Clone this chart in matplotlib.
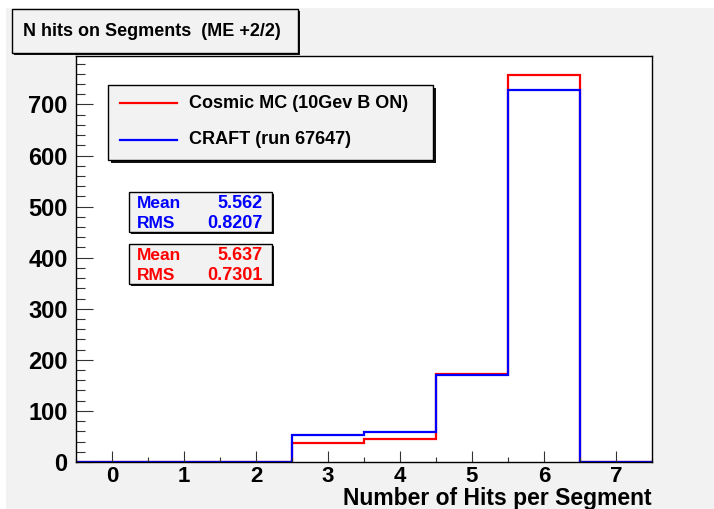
import matplotlib
matplotlib.use("Agg")
import matplotlib.pyplot as plt
from matplotlib.patches import Rectangle
from matplotlib.ticker import MultipleLocator
import numpy as np

plt.rcParams['font.family'] = ['Liberation Sans', 'DejaVu Sans']
plt.rcParams['font.weight'] = 'bold'

# hits per segment histograms, one bin per integer 0..7
bin_edges = np.arange(-0.5, 8.0, 1.0)
mc_counts = [0, 0, 0, 38, 45, 173, 757, 0]
craft_counts = [0, 0, 0, 53, 59, 170, 729, 0]

mc_label = "Cosmic MC (10Gev B ON)"
craft_label = "CRAFT (run 67647)"
mc_stats = ("5.637", "0.7301")
craft_stats = ("5.562", "0.8207")

W, H = 714, 509
BG = '#f2f2f2'

fig = plt.figure(figsize=(W / 100, H / 100), dpi=100, facecolor='white')


def fx(x):
    return x / W


def fy(y):
    return 1 - y / H


def box(x0, y0, x1, y1, shadow=3):
    # pad with a dark drop shadow, ROOT style
    fig.add_artist(Rectangle((fx(x0 + shadow), fy(y1 + shadow)), fx(x1 - x0), (y1 - y0) / H,
                             transform=fig.transFigure, facecolor='#111111', edgecolor='none', zorder=5))
    fig.add_artist(Rectangle((fx(x0), fy(y1)), fx(x1 - x0), (y1 - y0) / H,
                             transform=fig.transFigure, facecolor=BG, edgecolor='black', lw=1.0, zorder=6))


# canvas background
fig.add_artist(Rectangle((fx(6), fy(509)), fx(714 - 6), (509 - 8) / H,
                         transform=fig.transFigure, facecolor=BG, edgecolor='none', zorder=-10))

ax = fig.add_axes([fx(76), fy(462), fx(652 - 76), (462 - 56) / H])
ax.set_facecolor('white')

ax.stairs(mc_counts, bin_edges, baseline=0, color='#ff0000', lw=1.6, label=mc_label)
ax.stairs(craft_counts, bin_edges, baseline=0, color='#0000ff', lw=1.6, label=craft_label)

ymax = 1.05 * max(max(mc_counts), max(craft_counts))
ax.set_xlim(-0.5, 7.5)
ax.set_ylim(0, ymax)

ax.xaxis.set_major_locator(MultipleLocator(1))
ax.xaxis.set_minor_locator(MultipleLocator(0.5))
ax.yaxis.set_major_locator(MultipleLocator(100))
ax.yaxis.set_minor_locator(MultipleLocator(20))
ax.tick_params(axis='x', which='major', direction='in', length=8, width=0.8, color='#333333',
               labelsize=16, pad=3, top=False)
ax.tick_params(axis='x', which='minor', direction='in', length=3.8, width=0.8, color='#333333', top=False)
ax.tick_params(axis='y', which='major', direction='in', length=12, width=0.8, color='#333333',
               labelsize=17, pad=6, right=False)
ax.tick_params(axis='y', which='minor', direction='in', length=6.5, width=0.8, color='#333333', right=False)
for lab in ax.get_xticklabels() + ax.get_yticklabels():
    lab.set_fontweight('bold')
for sp in ax.spines.values():
    sp.set_linewidth(1.0)
    sp.set_color('black')

ax.set_xlabel("Number of Hits per Segment", fontsize=16.5, fontweight='bold', loc='right')
ax.xaxis.set_label_coords(1.0, -(505 - 462) / (462 - 56))
ax.xaxis.label.set_va('baseline')

# title pad
box(12, 9, 298, 53, shadow=2)
fig.text(fx(23), fy(31), "N hits on Segments  (ME +2/2)", fontsize=13, fontweight='bold',
         va='center', ha='left', zorder=7)

# legend pad
box(108, 85, 433, 160, shadow=3)
for yy, col, txt in [(103, '#ff0000', mc_label), (140, '#0000ff', craft_label)]:
    fig.add_artist(plt.Line2D([fx(120), fx(177)], [fy(yy), fy(yy)], color=col, lw=1.6,
                              transform=fig.transFigure, zorder=7))
    fig.text(fx(189), fy(yy), txt, fontsize=13, fontweight='bold', va='center', ha='left', zorder=7)

# statistics pads
for (y0, y1), col, (mean, rms) in [((192, 232), '#0000ff', craft_stats),
                                    ((244, 284), '#ff0000', mc_stats)]:
    box(129, y0, 272, y1, shadow=2)
    r1 = y0 + 12
    r2 = y0 + 31
    fig.text(fx(137), fy(r1), "Mean", color=col, fontsize=12.5, fontweight='bold', va='center', zorder=7)
    fig.text(fx(263), fy(r1), mean, color=col, fontsize=13, fontweight='bold', va='center', ha='right', zorder=7)
    fig.text(fx(137), fy(r2), "RMS", color=col, fontsize=12.5, fontweight='bold', va='center', zorder=7)
    fig.text(fx(263), fy(r2), rms, color=col, fontsize=13, fontweight='bold', va='center', ha='right', zorder=7)

fig.savefig("out.png", dpi=100, facecolor=fig.get_facecolor())
